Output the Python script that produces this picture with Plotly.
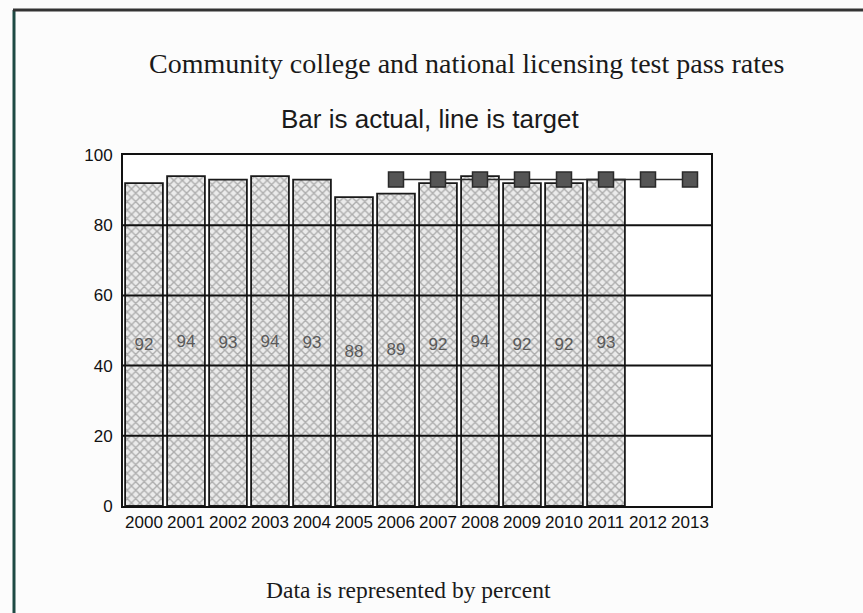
import plotly.graph_objects as go

# Pass-rate data (percent)
years = [str(y) for y in range(2000, 2014)]
actual_years = years[:12]
actual_rates = [92, 94, 93, 94, 93, 88, 89, 92, 94, 92, 92, 93]
target_years = years[6:]
target_rates = [93, 93, 93, 93, 93, 93, 93, 93]
y_ticks = [0, 20, 40, 60, 80, 100]

W, H = 863, 613
L, R, T, B = 123, 711, 155, 506  # plot-area edges in pixels


def px_x(p):
    return (p - L) / (R - L)


def px_y(p):
    return (B - p) / (B - T)


fig = go.Figure()

fig.add_trace(go.Bar(
    x=actual_years,
    y=actual_rates,
    text=[str(v) for v in actual_rates],
    textposition="inside",
    insidetextanchor="middle",
    textangle=0,
    constraintext="none",
    textfont=dict(family="Liberation Sans, Arial", size=17, color="#5a5a5a"),
    marker=dict(
        color="#dcdcdc",
        line=dict(color="#1a1a1a", width=1.8),
        pattern=dict(shape="x", fgcolor="#707070", bgcolor="#ebebeb",
                     size=6, solidity=0.42),
    ),
    hoverinfo="x+y",
    showlegend=False,
))

fig.add_trace(go.Scatter(
    x=target_years,
    y=target_rates,
    mode="lines+markers",
    line=dict(color="#2a2a2a", width=1.5),
    marker=dict(symbol="square", size=15, color="#555555",
                line=dict(color="#2a2a2a", width=1.5)),
    showlegend=False,
))

# Horizontal gridlines drawn over the bars
for v in y_ticks[1:-1]:
    fig.add_shape(type="line", xref="paper", yref="y", x0=0, x1=1, y0=v, y1=v,
                  line=dict(color="#111111", width=2), layer="above")

# Page frame (left and top rules)
fig.add_shape(type="line", xref="paper", yref="paper",
              x0=px_x(14), x1=px_x(14), y0=px_y(10), y1=px_y(613),
              line=dict(color="#1e4a44", width=3))
fig.add_shape(type="line", xref="paper", yref="paper",
              x0=px_x(13), x1=px_x(863), y0=px_y(10), y1=px_y(10),
              line=dict(color="#333333", width=3))

fig.add_annotation(text="Community college and national licensing test pass rates",
                   xref="paper", yref="paper", x=px_x(466), y=px_y(64),
                   showarrow=False, xanchor="center", yanchor="middle",
                   font=dict(family="Liberation Serif, Times New Roman", size=28,
                             color="#1a1a1a"))
fig.add_annotation(text="Bar is actual, line is target",
                   xref="paper", yref="paper", x=px_x(430), y=px_y(119),
                   showarrow=False, xanchor="center", yanchor="middle",
                   font=dict(family="Liberation Sans, Arial", size=26,
                             color="#1a1a1a"))
fig.add_annotation(text="Data is represented by percent",
                   xref="paper", yref="paper", x=px_x(408), y=px_y(590),
                   showarrow=False, xanchor="center", yanchor="middle",
                   font=dict(family="Liberation Serif, Times New Roman", size=23.5,
                             color="#1a1a1a"))

fig.update_layout(
    width=W, height=H,
    margin=dict(l=L, r=W - R, t=T, b=H - B),
    paper_bgcolor="#fcfcfc",
    plot_bgcolor="#ffffff",
    bargap=0.1,
    font=dict(family="Liberation Sans, Arial", color="#111111"),
)
fig.update_xaxes(
    type="category", categoryorder="array", categoryarray=years,
    range=[-0.5, len(years) - 0.5],
    showline=True, linecolor="#111111", linewidth=2, mirror=True,
    ticks="", tickangle=0, tickfont=dict(size=17, color="#111111"),
    showgrid=False,
)
fig.update_yaxes(
    range=[0, 100], tickvals=y_ticks,
    showline=True, linecolor="#111111", linewidth=2, mirror=True,
    ticks="", tickfont=dict(size=17, color="#111111"), showgrid=False,
    zeroline=False, ticklabelstandoff=5,
)

fig.write_html("out.html")
